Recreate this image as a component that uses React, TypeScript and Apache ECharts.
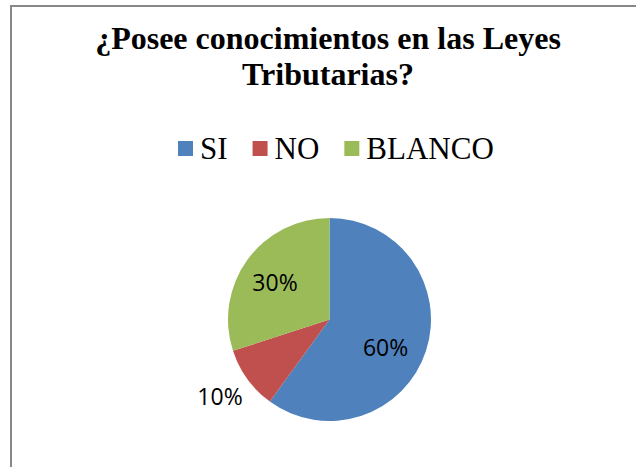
import React, { useEffect, useRef } from "react";
import * as echarts from "echarts";

const titleText = "¿Posee conocimientos en las Leyes\nTributarias?";
const categories = ["SI", "NO", "BLANCO"];
const values = [60, 10, 30];
const colors = ["#4F81BD", "#C0504D", "#9BBB59"];
// label nudges (dx, dy) relative to ECharts' inside label position
const labelNudges = [
  [5, 11],
  [-66, 45],
  [-11, -6],
];

export default function App() {
  const ref = useRef<HTMLDivElement>(null);
  useEffect(() => {
    if (!ref.current) return;
    const chart = echarts.init(ref.current, undefined, { renderer: "svg" });
    chart.setOption({
      animation: false,
      backgroundColor: "#ffffff",
      title: {
        text: titleText,
        left: 323,
        top: 15,
        textAlign: "center",
        textStyle: {
          fontFamily: "Liberation Serif",
          fontWeight: 700,
          fontSize: 32,
          lineHeight: 36,
          color: "#000000",
        },
      },
      legend: {
        data: categories,
        left: 173,
        top: 128,
        icon: "rect",
        itemWidth: 15,
        itemHeight: 15,
        itemGap: 25,
        textStyle: {
          fontFamily: "Liberation Serif",
          fontSize: 31,
          color: "#000000",
          padding: [0, 0, 0, 2],
        },
      },
      graphic: [
        {
          type: "rect",
          shape: { x: 11, y: 6, width: 700, height: 600 },
          style: { fill: "none", stroke: "#888888", lineWidth: 2 },
          silent: true,
        },
      ],
      series: [
        {
          type: "pie",
          center: [329.5, 319.5],
          radius: 101.5,
          startAngle: 90,
          clockwise: true,
          itemStyle: { borderWidth: 0 },
          emphasis: { disabled: true },
          label: {
            show: true,
            position: "inside",
            formatter: "{c}%",
            fontFamily: "Open Sans",
            fontSize: 23,
            color: "#000000",
          },
          labelLine: { show: false },
          labelLayout: (params: any) => {
            const n = labelNudges[params.dataIndex];
            return { dx: n[0], dy: n[1] };
          },
          data: categories.map((name, i) => ({
            name,
            value: values[i],
            itemStyle: { color: colors[i] },
          })),
        },
      ],
    });
    return () => chart.dispose();
  }, []);
  return (
    <div
      ref={ref}
      style={{ position: "fixed", left: 0, top: 0, width: 636, height: 467 }}
    />
  );
}
